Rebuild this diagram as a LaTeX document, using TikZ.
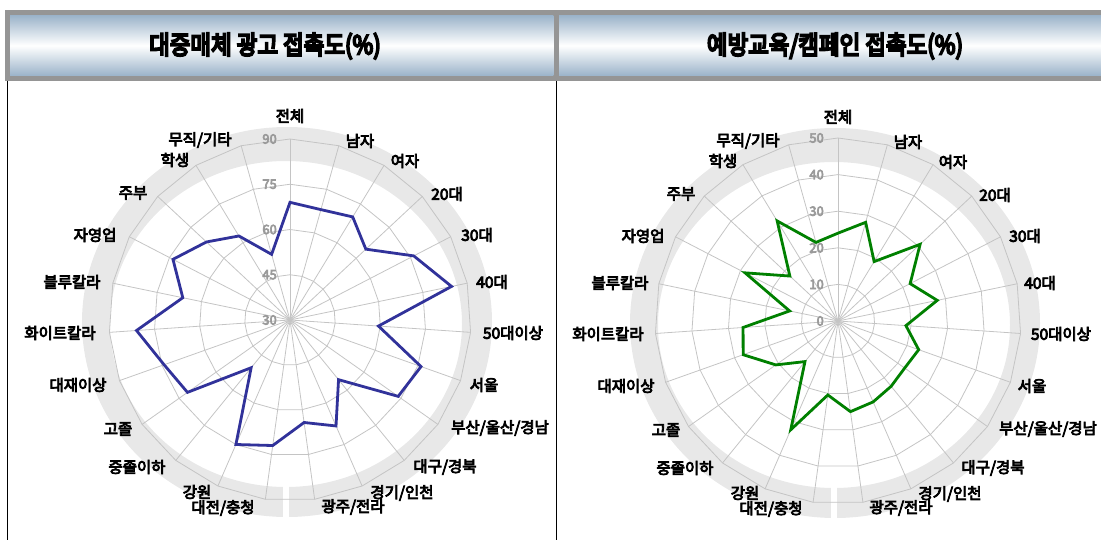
\documentclass[tikz,border=0pt]{standalone}
\usepackage{fontspec}
\usepackage{graphicx}
\newfontfamily\krl{Noto Sans CJK KR}[FakeBold=5]
\newfontfamily\krt{Noto Sans CJK KR}[FakeBold=8]
\definecolor{gridc}{HTML}{C4C4C4}
\definecolor{bandc}{HTML}{E8E8E8}
\definecolor{barb}{HTML}{959595}
\definecolor{tbl}{HTML}{9CB4CA}
\definecolor{sclc}{HTML}{9A9A9A}
\definecolor{navy}{HTML}{31329A}
\definecolor{grn}{HTML}{008000}
\tikzset{
  gridline/.style={draw=gridc, line width=0.8pt},
  lbl/.style={font=\krl\fontsize{15.5}{15.5}\selectfont, inner sep=0pt},
  scl/.style={font=\krl\fontsize{13}{13}\selectfont, text=sclc, inner sep=0pt, anchor=east},
  ttl/.style={font=\krt\fontsize{25.5}{25.5}\selectfont, inner sep=0pt},
  serie/.style={line width=2.8pt, line join=miter},
  frame/.style={draw=black, line width=1pt}
}
\begin{document}
\begin{tikzpicture}[x=1pt,y=-1pt]
\useasboundingbox (0,0) rectangle (1101,540);
% title bars
\fill[barb] (5,10) rectangle (1110,81);
\shade[top color=tbl, bottom color=tbl, middle color=white] (10,15.7) rectangle (553.3,75.3);
\shade[top color=tbl, bottom color=tbl, middle color=white] (559,15.7) rectangle (1110,75.3);
\node[ttl] (t1) at (265,46) {\scalebox{0.88}[1]{대중매체 광고 접촉도(\%)}};
\node[ttl] (t2) at (835,46) {\scalebox{0.88}[1]{예방교육/캠페인 접촉도(\%)}};
% frame lines
\coordinate (f1a) at (7.5,81); \coordinate (f1b) at (7.5,540);
\coordinate (f2a) at (556,81); \coordinate (f2b) at (556,540);
\draw[frame] (f1a) -- (f1b);
\draw[frame] (f2a) -- (f2b);
% bands
\fill[bandc,even odd rule] (287,322) ellipse [x radius=205, y radius=195] (286,324) ellipse [x radius=176, y radius=163];
\fill[bandc,even odd rule] (835,323) ellipse [x radius=205, y radius=195] (834,325) ellipse [x radius=176, y radius=163];
\fill[white] (283,478) rectangle (289,522);
\fill[white] (831,478) rectangle (837,522);
% centres
\coordinate (cL) at (290,320);
\coordinate (cR) at (838,321);
% grids
\foreach \c/\R/\n in {cL/181/4, cR/183/5}{
  \begin{scope}[shift={(\c)}]
    \foreach \k in {1,...,\n}{
      \pgfmathsetmacro\rr{\R*\k/\n}
      \draw[gridline] (-90:\rr) \foreach \i in {1,...,22}{ -- ({-90+\i*360/23}:\rr)} -- cycle;
    }
    \foreach \i in {0,...,22}{
      \coordinate (\c sp\i) at ({-90+\i*360/23}:\R);
      \draw[gridline] (0,0) -- (\c sp\i);
    }
  \end{scope}
}
% scale labels
\foreach \v [count=\k from 0] in {30,45,60,75,90}{
  \node[scl] (sL\k) at (277,{320-\k*181/4}) {\v};
}
\foreach \v [count=\k from 0] in {0,10,20,30,40,50}{
  \node[scl] (sR\k) at (824,{321-\k*183/5}) {\v};
}
% series left
\begin{scope}[shift={(cL)}]
\foreach \v [count=\i from 0] in {69,68,70,64.4,76.2,84.7,59.4,76.1,73.9,55.5,68.3,64.3,72,75,50.4,71.6,74.3,81,66.3,73.7,67.9,62.6,52.6}{
  \pgfmathsetmacro\rr{(\v-30)/60*181}
  \coordinate (L\i) at ({-90+\i*360/23}:\rr);
}
\end{scope}
\draw[serie, navy] (L0) \foreach \i in {1,...,22}{ -- (L\i)} -- cycle;
% series right
\begin{scope}[shift={(cR)}]
\foreach \v [count=\i from 0] in {24,28,19,30.7,22.2,27.7,18.6,23.4,22.3,23,24.1,25,20.4,32.4,14.3,20.8,27.5,26,13.5,28.6,18,32,22.3}{
  \pgfmathsetmacro\rr{\v/50*183}
  \coordinate (R\i) at ({-90+\i*360/23}:\rr);
}
\end{scope}
\draw[serie, grn] (R0) \foreach \i in {1,...,22}{ -- (R\i)} -- cycle;
% category labels
\foreach \p/\dx/\dy in {L/0/0, R/548/1}{
  \foreach \t/\x/\y [count=\n] in {{전체}/290/116, {남자}/360/141, {여자}/405/161, {20대}/447/194, {30대}/477/235, {40대}/492/282, {50대이상}/513/333, {서울}/484/385, {부산/울산/경남}/500/428, {대구/경북}/445/467, {경기/인천}/402/493, {광주/전라}/353/507, {대전/충청}/223/508, {강원}/197/492, {중졸이하}/137/467, {고졸}/118/429, {대재이상}/78/385, {화이트칼라}/60/333, {블루칼라}/72/282, {자영업}/95/235, {주부}/133/193, {학생}/175/160, {무직/기타}/200/140}{
    \node[lbl] (\p lab\n) at (\x+\dx,\y+\dy) {\t};
  }
}
\end{tikzpicture}
\end{document}
